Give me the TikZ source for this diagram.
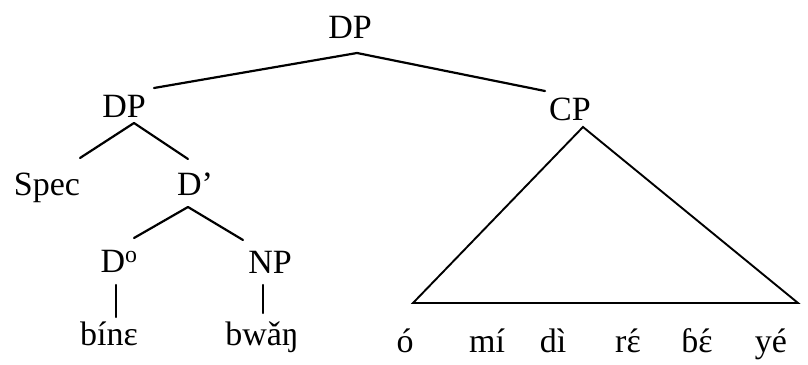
\documentclass[tikz,border=0pt]{standalone}
\usepackage{fontspec}
\setmainfont{Liberation Serif}
\newcommand{\epsac}{\ooalign{ɛ\cr\hidewidth\char"00B4\hidewidth\cr}}
\begin{document}
\begin{tikzpicture}[x=1pt,y=-1pt,
  lab/.style={inner sep=0pt, anchor=base, font=\fontsize{34}{40}\selectfont},
  branch/.style={line width=2.2pt, line cap=round, line join=round},
  tri/.style={line width=1.9pt, line join=miter}]
\useasboundingbox (0,0) rectangle (808,364);
% labels
\node[lab] (dp0) at (350,38) {DP};
\node[lab] (dp1) at (124,117) {DP};
\node[lab] (cp) at (570,120) {CP};
\node[lab] (spec) at (47,195) {Spec};
\node[lab] (dbar) at (195,195) {D’};
\node[lab] (d0) at (119,272) {D\textsuperscript{o}};
\node[lab] (np) at (270,273) {NP};
\node[lab] (w1) at (109,345) {bínɛ};
\node[lab] (w2) at (262,345) {bwǎŋ};
\node[lab] (o) at (405,352) {ó};
\node[lab] (mi) at (487,352) {mí};
\node[lab] (di) at (553,352) {dì};
\node[lab] (re) at (628,352) {r\epsac};
\node[lab] (be) at (697,352) {ɓ\epsac};
\node[lab] (ye) at (771,352) {yé};
% branch points
\coordinate (a0) at (357,53);
\coordinate (a0l) at (154,88);
\coordinate (a0r) at (545,91);
\coordinate (a1) at (134,123);
\coordinate (a1l) at (80,158);
\coordinate (a1r) at (188,159);
\coordinate (a2) at (188,207);
\coordinate (a2l) at (134,238);
\coordinate (a2r) at (243,240);
\coordinate (b1t) at (116,285);
\coordinate (b1b) at (116,317);
\coordinate (b2t) at (263,285);
\coordinate (b2b) at (263,313);
\coordinate (t0) at (583,127);
\coordinate (tl) at (413,303);
\coordinate (tr) at (798,303);
% connectors
\draw[branch] (a0l) -- (a0) -- (a0r);
\draw[branch] (a1l) -- (a1) -- (a1r);
\draw[branch] (a2l) -- (a2) -- (a2r);
\draw[branch] (b1t) -- (b1b);
\draw[branch] (b2t) -- (b2b);
\draw[tri] (t0) -- (tl) -- (tr) -- cycle;
\end{tikzpicture}
\end{document}
